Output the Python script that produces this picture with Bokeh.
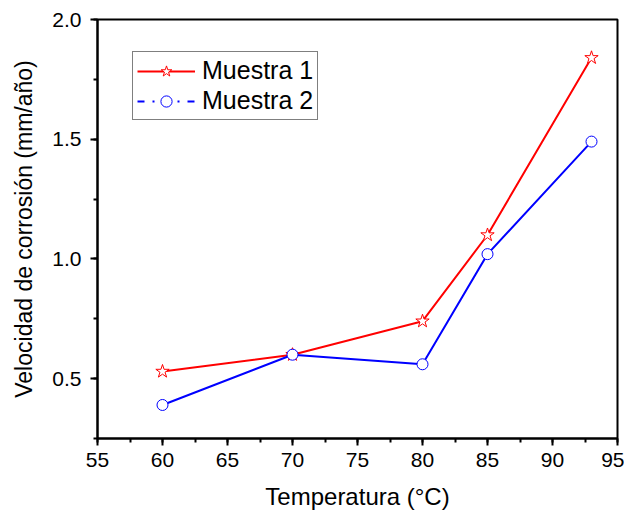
from bokeh.plotting import figure
from bokeh.models import Range1d, SingleIntervalTicker, Legend, LegendItem, ColumnDataSource, NumeralTickFormatter
from bokeh.embed import file_html
from bokeh.resources import INLINE

temperatura = [60, 70, 80, 85, 93]
muestra1 = [0.53, 0.60, 0.74, 1.10, 1.84]
muestra2 = [0.39, 0.60, 0.56, 1.02, 1.49]

FONT = "Liberation Sans"

p = figure(width=624, height=514, output_backend="svg", toolbar_location=None,
           x_range=Range1d(55, 95), y_range=Range1d(0.25, 2.0),
           min_border_left=97, min_border_right=7, min_border_top=19, min_border_bottom=76)
p.grid.visible = False
p.outline_line_color = "black"
p.outline_line_width = 2
p.background_fill_color = "white"
p.border_fill_color = "white"

p.xaxis.ticker = SingleIntervalTicker(interval=5, num_minor_ticks=2)
p.yaxis.ticker = SingleIntervalTicker(interval=0.5, num_minor_ticks=2)
p.yaxis.formatter = NumeralTickFormatter(format="0.0")
for ax in (p.xaxis, p.yaxis):
    ax.axis_line_width = 2
    ax.axis_line_color = "black"
    ax.major_tick_line_width = 2
    ax.minor_tick_line_width = 2
    ax.major_tick_line_color = "black"
    ax.minor_tick_line_color = "black"
    ax.major_tick_in = 0
    ax.major_tick_out = 7
    ax.minor_tick_in = 0
    ax.minor_tick_out = 4
    ax.major_label_text_font = FONT
    ax.major_label_text_font_size = "21px"
    ax.major_label_text_color = "black"
    ax.axis_label_text_font = FONT
    ax.axis_label_text_font_style = "normal"
    ax.axis_label_text_color = "black"
p.xaxis.axis_label = "Temperatura (°C)"
p.yaxis.axis_label = "Velocidad de corrosión (mm/año)"
p.xaxis.axis_label_text_font_size = "24px"
p.yaxis.axis_label_text_font_size = "23px"
p.xaxis.major_label_standoff = 7
p.xaxis.axis_label_standoff = 13
p.yaxis.major_label_standoff = 9
p.yaxis.axis_label_standoff = 12

src = ColumnDataSource(dict(x=temperatura, y1=muestra1, y2=muestra2))
p.line("x", "y1", source=src, line_color="red", line_width=2)
p.line("x", "y2", source=src, line_color="blue", line_width=2)
s1 = p.scatter("x", "y1", source=src, marker="star", size=14, fill_color="white",
               line_color="red", line_width=1)
s2 = p.scatter("x", "y2", source=src, marker="circle", size=11, fill_color="white",
               line_color="blue", line_width=1)

nan = float("nan")
d1 = p.line([nan], [nan], line_color="red", line_width=2)
d2 = p.line([nan], [nan], line_color="blue", line_width=2, line_dash="7 8 2 8")

legend = Legend(items=[LegendItem(label="Muestra 1", renderers=[d1, s1]),
                       LegendItem(label="Muestra 2", renderers=[d2, s2])],
                location=(35, 318))
legend.border_line_color = "black"
legend.border_line_width = 1
legend.background_fill_alpha = 1
legend.label_text_font = FONT
legend.label_text_font_size = "25px"
legend.label_text_color = "black"
legend.glyph_width = 58
legend.glyph_height = 28
legend.label_height = 28
legend.padding = 4
legend.spacing = 1
legend.label_standoff = 7
legend.margin = 0
p.add_layout(legend, "center")

open("out.html", "w").write(file_html(p, INLINE))
